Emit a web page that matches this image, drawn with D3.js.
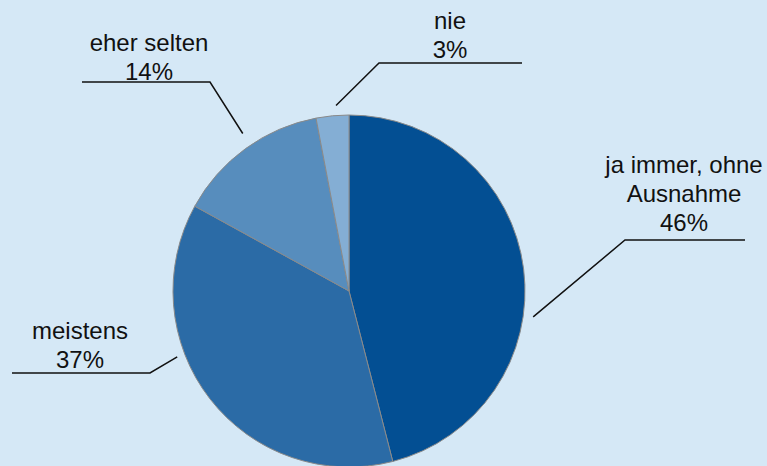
<!DOCTYPE html>
<html>
<head>
<meta charset="utf-8">
<script src="https://cdn.jsdelivr.net/npm/d3@7"></script>
<style>
  html, body { margin: 0; padding: 0; background: #d5e8f6; overflow: hidden; }
  text { font-family: "Liberation Sans", Arial, Helvetica, sans-serif; fill: #111; }
</style>
</head>
<body>
<div id="chart-area"></div>
<script>
// data
var categories = ["ja immer, ohne Ausnahme", "meistens", "eher selten", "nie"];
var values = [46, 37, 14, 3];
var labelLines = [["ja immer, ohne", "Ausnahme", "46%"], ["meistens", "37%"], ["eher selten", "14%"], ["nie", "3%"]];
var colors = ["#034f93", "#2b6ba6", "#578dbd", "#84aed4"];

// canvas
var width = 767, height = 466;
var cx = 349, cy = 291, radius = 176;

var svg = d3.select("#chart-area").append("svg")
    .attr("width", width)
    .attr("height", height);

svg.append("rect")
    .attr("width", width)
    .attr("height", height)
    .attr("fill", "#d5e8f6");

var g = svg.append("g")
    .attr("transform", "translate(" + cx + "," + cy + ")");

var pie = d3.pie().sort(null).value(function(d){ return d; });
var arc = d3.arc().innerRadius(0).outerRadius(radius);

var arcs = pie(values);

g.selectAll(".slice")
    .data(arcs)
    .enter().append("path")
    .attr("class", "slice")
    .attr("d", arc)
    .attr("fill", function(d, i){ return colors[i]; })
    .attr("stroke", "#8a8a8a")
    .attr("stroke-width", 1);

// label layout (leader angle in deg from top, elbow, line end, text centre, first baseline)
var layout = [
    { angle: 98,  r: 186, elbow: [625, 240], end: 745, tx: 684, ty: 173 },
    { angle: 249, r: 184, elbow: [150, 373], end: 12,  tx: 80,  ty: 339 },
    { angle: 326, r: 190, elbow: [210, 82],  end: 82,  tx: 149, ty: 51 },
    { angle: 356, r: 186, elbow: [379, 63],  end: 522, tx: 450, ty: 29 }
];
var lineH = 29;

arcs.forEach(function(d, i){
    var L = layout[i];
    var a = L.angle * Math.PI / 180;
    var sx = cx + L.r * Math.sin(a), sy = cy - L.r * Math.cos(a);
    svg.append("polyline")
        .attr("points", [[sx, sy], L.elbow, [L.end, L.elbow[1]]].map(function(p){ return p.join(","); }).join(" "))
        .attr("fill", "none")
        .attr("stroke", "#111")
        .attr("stroke-width", 1.5);

    var t = svg.append("text")
        .attr("text-anchor", "middle")
        .attr("font-size", "24px");
    labelLines[i].forEach(function(s, j){
        t.append("tspan")
            .attr("x", L.tx)
            .attr("y", L.ty + j * lineH)
            .text(s);
    });
});
</script>
</body>
</html>
